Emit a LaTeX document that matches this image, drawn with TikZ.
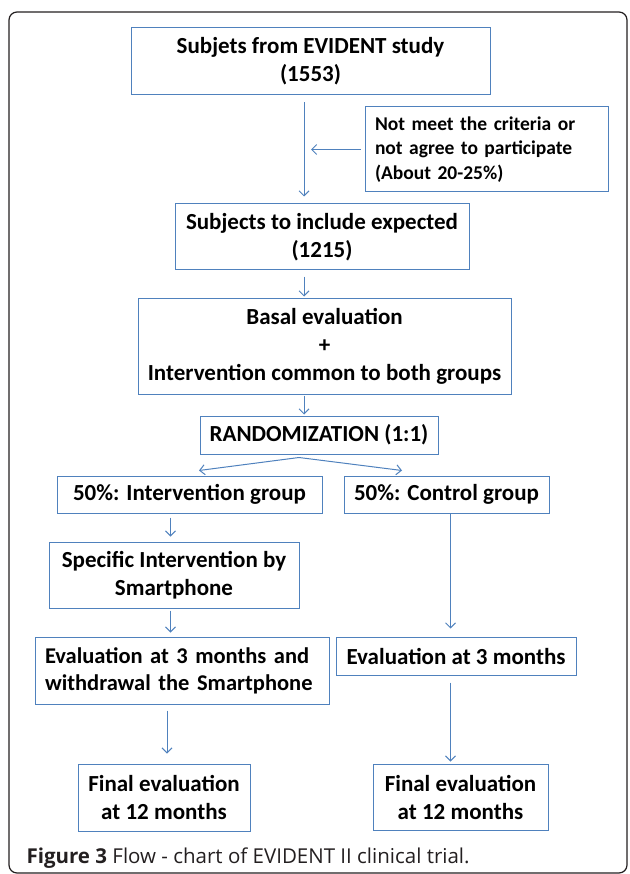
\documentclass[tikz,border=0pt]{standalone}
\usepackage{fontspec}
\setmainfont{Carlito}
\newfontfamily\capfont{Open Sans}
\usepackage{tikz}
\usetikzlibrary{arrows.meta}

\definecolor{boxblue}{RGB}{79,129,189}
\definecolor{framegray}{RGB}{35,31,32}

\begin{document}
\begin{tikzpicture}[x=1pt, y=-1pt, line width=1pt,
    box/.style={draw=boxblue, inner sep=0pt, align=center,
                font=\bfseries\fontsize{23}{28}\selectfont},
    leftbox/.style={box, align=left, inner xsep=10pt},
    arr/.style={draw=boxblue, -{Straight Barb[length=5pt,width=10pt]}}]

    \useasboundingbox (0,0) rectangle (629,874);

    % draw outer frame
    \draw[framegray, line width=1.2pt, rounded corners=8pt] (9,12) rectangle (627,873);

    % draw boxes of the main column
    \node[box, minimum width=359pt, minimum height=67pt] (subjects) at (310.5,61.5)
        {Subjets from EVIDENT study\\(1553)};
    \node[leftbox, text width=223pt, minimum height=85pt,
          font=\bfseries\fontsize{19.5}{24.5}\selectfont] (exclude) at (486.5,149.5)
        {Not meet the criteria or\\not agree to participate\\(About 20-25\%)};
    \node[box, minimum width=294pt, minimum height=66pt] (include) at (322,237)
        {Subjects to include expected\\(1215)};
    \node[box, minimum width=373pt, minimum height=96pt] (basal) at (324.5,346)
        {Basal evaluation\\+\\Intervention common to both groups};
    \node[box, minimum width=238pt, minimum height=38pt] (random) at (319,435)
        {RANDOMIZATION (1:1)};

    % draw boxes of the two groups
    \node[box, minimum width=265pt, minimum height=37pt] (intgroup) at (189.5,494.5)
        {50\%: Intervention group};
    \node[box, minimum width=205pt, minimum height=37pt] (ctrlgroup) at (446.5,494.5)
        {50\%: Control group};
    \node[box, minimum width=250pt, minimum height=66pt] (smartphone) at (174,575)
        {Specific Intervention by\\Smartphone};
    \node[leftbox, text width=274pt, minimum height=67pt,
          font=\bfseries\fontsize{22.5}{27}\selectfont] (evalint) at (182,670.5)
        {Evaluation at 3 months and\\withdrawal the Smartphone};
    \node[box, minimum width=240pt, minimum height=38pt] (evalctrl) at (456,656)
        {Evaluation at 3 months};
    \node[box, minimum width=172pt, minimum height=67pt] (finalint) at (164,797.5)
        {Final evaluation\\at 12 months};
    \node[box, minimum width=175pt, minimum height=66pt] (finalctrl) at (460.5,797)
        {Final evaluation\\at 12 months};

    % columns of the arrows
    \coordinate (spine) at (304,0);
    \coordinate (lcola) at (170.5,0);
    \coordinate (lcolb) at (167,0);
    \coordinate (rcol) at (450.5,0);
    \coordinate (split) at ([xshift=-20pt,yshift=-3pt]random.south);

    % draw arrows
    \draw[arr, shorten <=7pt, shorten >=7pt] (subjects.south -| spine) -- (include.north -| spine);
    \draw[arr, shorten <=4pt, shorten >=7pt] (exclude.west) -- (exclude.west -| spine);
    \draw[arr, shorten <=6pt, shorten >=1pt] (include.south -| spine) -- (basal.north -| spine);
    \draw[arr, shorten <=1pt, shorten >=1pt] (basal.south -| spine) -- (random.north -| spine);
    \draw[arr] (split) -- ([xshift=9.5pt,yshift=5pt]intgroup.north);
    \draw[arr] (split) -- ([xshift=-44.5pt,yshift=5pt]ctrlgroup.north);
    \draw[arr, shorten <=4pt, shorten >=5pt] (intgroup.south -| lcola) -- (smartphone.north -| lcola);
    \draw[arr, shorten <=2pt, shorten >=4pt] (smartphone.south -| lcola) -- (evalint.north -| lcola);
    \draw[arr, shorten <=6pt, shorten >=10pt] (evalint.south -| lcolb) -- (finalint.north -| lcolb);
    \draw[arr, shorten >=8pt] (ctrlgroup.south -| rcol) -- (evalctrl.north -| rcol);
    \draw[arr, shorten <=7pt, shorten >=2pt] (evalctrl.south -| rcol) -- (finalctrl.north -| rcol);

    % draw caption
    \node[anchor=base west, inner sep=0pt, text=framegray, font=\capfont\fontsize{20.5}{24}\selectfont] (caption) at (26,863)
        {\textbf{Figure 3} Flow - chart of EVIDENT II clinical trial.};
\end{tikzpicture}
\end{document}
